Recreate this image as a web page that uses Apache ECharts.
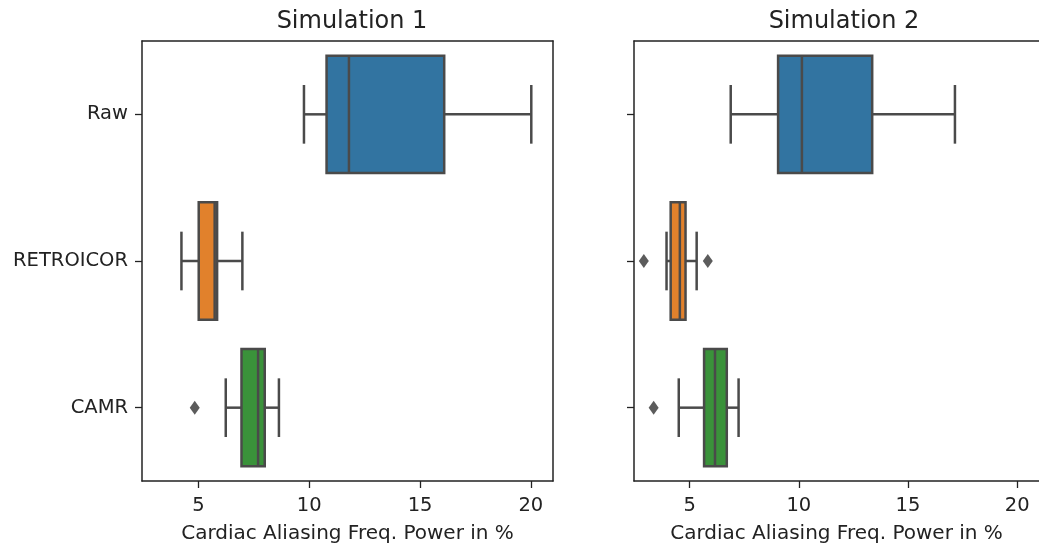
<!DOCTYPE html>
<html style="height: 100%">
<head>
    <meta charset="utf-8">
    <script src="https://cdn.jsdelivr.net/npm/echarts@6/dist/echarts.min.js"></script>
</head>
<body style="height: 100%; margin: 0; background: #fff">
<div id="container" style="width: 1039px; height: 550px"></div>

<script type="text/javascript">
    // categories, top to bottom
    var categories = ['Raw', 'RETROICOR', 'CAMR'];
    var xTicks = [5, 10, 15, 20];
    var titles = ['Simulation 1', 'Simulation 2'];

    // [min whisker, q1, median, q3, max whisker] per category
    var sim1Stats = [
        [9.76, 10.78, 11.79, 16.09, 20.02],
        [4.23, 5.01, 5.73, 5.84, 6.98],
        [6.23, 6.94, 7.69, 7.99, 8.63]
    ];
    var sim2Stats = [
        [6.88, 9.05, 10.14, 13.36, 17.15],
        [3.94, 4.13, 4.55, 4.81, 5.32],
        [4.50, 5.66, 6.16, 6.70, 7.24]
    ];
    // outliers: [value, category index]
    var sim1Outliers = [[4.83, 2]];
    var sim2Outliers = [[2.90, 1], [5.83, 1], [3.35, 2]];

    var boxColors = ['#3274a1', '#e1812c', '#3a923a'];
    var lineColor = '#4a4a4a';
    var frameColor = '#222';
    var font = 'DejaVu Sans';

    var dom = document.getElementById("container");
    var myChart = echarts.init(dom);

    function boxData(stats) {
        var out = [];
        for (var i = 0; i < stats.length; i++) {
            out.push([i].concat(stats[i]));
        }
        return out;
    }

    function renderBox(params, api) {
        var cat = api.value(0);
        var band = api.size([0, 1])[1];
        var half = band * 0.4;
        var cap = band * 0.2;
        var pMin = api.coord([api.value(1), cat]);
        var pQ1 = api.coord([api.value(2), cat]);
        var pMed = api.coord([api.value(3), cat]);
        var pQ3 = api.coord([api.value(4), cat]);
        var pMax = api.coord([api.value(5), cat]);
        var y = pMed[1];
        var ls = {stroke: lineColor, lineWidth: 2.5};
        return {
            type: 'group',
            children: [
                {type: 'line', shape: {x1: pMin[0], y1: y, x2: pQ1[0], y2: y}, style: ls},
                {type: 'line', shape: {x1: pQ3[0], y1: y, x2: pMax[0], y2: y}, style: ls},
                {type: 'line', shape: {x1: pMin[0], y1: y - cap, x2: pMin[0], y2: y + cap}, style: ls},
                {type: 'line', shape: {x1: pMax[0], y1: y - cap, x2: pMax[0], y2: y + cap}, style: ls},
                {
                    type: 'rect',
                    shape: {x: pQ1[0], y: y - half, width: pQ3[0] - pQ1[0], height: half * 2},
                    style: {fill: boxColors[cat], stroke: lineColor, lineWidth: 2.5}
                },
                {type: 'line', shape: {x1: pMed[0], y1: y - half, x2: pMed[0], y2: y + half}, style: ls}
            ]
        };
    }

    var lefts = [142, 634];
    var statsList = [sim1Stats, sim2Stats];
    var outlierList = [sim1Outliers, sim2Outliers];
    var frameLine = {show: true, lineStyle: {color: frameColor, width: 1.5}};

    var grids = [], xAxes = [], yAxes = [], series = [], titleList = [];
    for (var k = 0; k < 2; k++) {
        grids.push({left: lefts[k], top: 41, width: 411, height: 440});
        titleList.push({
            text: titles[k],
            left: lefts[k] + 205, top: 5, textAlign: 'center',
            textStyle: {fontFamily: font, fontSize: 24, fontWeight: 'normal', color: '#222'}
        });
        xAxes.push({
            type: 'value', gridIndex: k, min: 2.45, max: 21.0,
            name: 'Cardiac Aliasing Freq. Power in %', nameLocation: 'middle', nameGap: 43,
            nameTextStyle: {fontFamily: font, fontSize: 20, color: '#222'},
            axisLine: frameLine,
            axisTick: {show: true, length: 7, lineStyle: {color: frameColor, width: 1.3}, customValues: xTicks},
            axisLabel: {fontFamily: font, fontSize: 19.5, color: '#222', margin: 15, customValues: xTicks},
            splitLine: {show: false}
        });
        // top frame edge
        xAxes.push({
            type: 'value', gridIndex: k, position: 'top', min: 2.45, max: 21.0,
            axisLine: frameLine, axisTick: {show: false}, axisLabel: {show: false},
            splitLine: {show: false}
        });
        yAxes.push({
            type: 'category', gridIndex: k, data: categories, inverse: true,
            axisLine: frameLine,
            axisTick: {show: true, alignWithLabel: true, length: 7, lineStyle: {color: frameColor, width: 1.3}},
            axisLabel: {show: k === 0, fontFamily: font, fontSize: 19.5, color: '#222', margin: 14},
            splitLine: {show: false}
        });
        series.push({
            type: 'custom', xAxisIndex: 2 * k, yAxisIndex: k,
            renderItem: renderBox,
            encode: {x: [1, 2, 3, 4, 5], y: 0},
            data: boxData(statsList[k]),
            animation: false
        });
        series.push({
            type: 'scatter', xAxisIndex: 2 * k, yAxisIndex: k,
            symbol: 'diamond', symbolSize: [10, 14],
            itemStyle: {color: '#333'},
            data: outlierList[k],
            animation: false
        });
    }
    // right frame edge of the left panel only (the right panel runs off the page)
    yAxes.push({
        type: 'category', gridIndex: 0, position: 'right', data: categories, inverse: true,
        axisLine: frameLine, axisTick: {show: false}, axisLabel: {show: false}
    });

    var option = {
        animation: false,
        title: titleList,
        grid: grids,
        xAxis: xAxes,
        yAxis: yAxes,
        series: series
    };
    myChart.setOption(option, true);
</script>
</body>
</html>
